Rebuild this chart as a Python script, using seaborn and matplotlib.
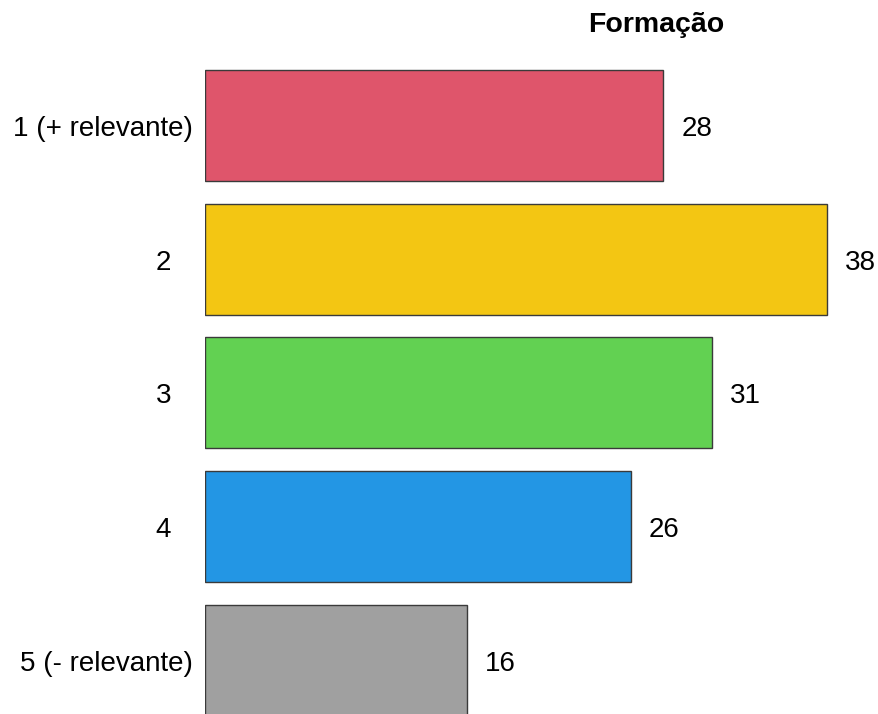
import matplotlib
matplotlib.use("Agg")
import matplotlib.pyplot as plt
import seaborn as sns

categories = ["1 (+ relevante)", "2", "3", "4", "5 (- relevante)"]
values = [28, 38, 31, 26, 16]
colors = ["#DF556B", "#F3C613", "#62D152", "#2396E4", "#A0A0A0"]
title = "Formação"

sns.set_theme(style="white")
plt.rcParams["font.family"] = ["Liberation Sans", "DejaVu Sans"]
plt.rcParams["text.color"] = "black"

fig = plt.figure(figsize=(8.79, 7.14), dpi=100)
ax = fig.add_axes([205 / 879, 0, 671 / 879, 1])

sns.barplot(x=values, y=categories, hue=categories, palette=colors, legend=False,
            orient="h", width=0.83, saturation=1, edgecolor="#3a3a3a", linewidth=1, ax=ax)

ax.set_xlim(0, 41)
ax.set_ylim(4.4, -0.938)
sns.despine(ax=ax, left=True, bottom=True)
ax.set_xticks([])
ax.set_yticks([])
ax.set_xlabel("")
ax.set_ylabel("")

# valores à direita das barras
for i, v in enumerate(values):
    ax.text(v + 1.1, i + 0.025, str(v), ha="left", va="center", fontsize=20,
            color="black", clip_on=False)

# rótulos das categorias à esquerda
for i, lab in enumerate(categories):
    if len(lab) > 1:
        ax.text(-0.73, i + 0.025, lab, ha="right", va="center", fontsize=20,
                color="black", clip_on=False)
    else:
        ax.text(-2.55, i + 0.025, lab, ha="center", va="center", fontsize=20,
                color="black", clip_on=False)

fig.text(656 / 879, 1 - 32 / 714, title, ha="center", va="baseline",
         fontsize=20.5, fontweight="bold", color="black")

fig.savefig("out.png", dpi=100)
